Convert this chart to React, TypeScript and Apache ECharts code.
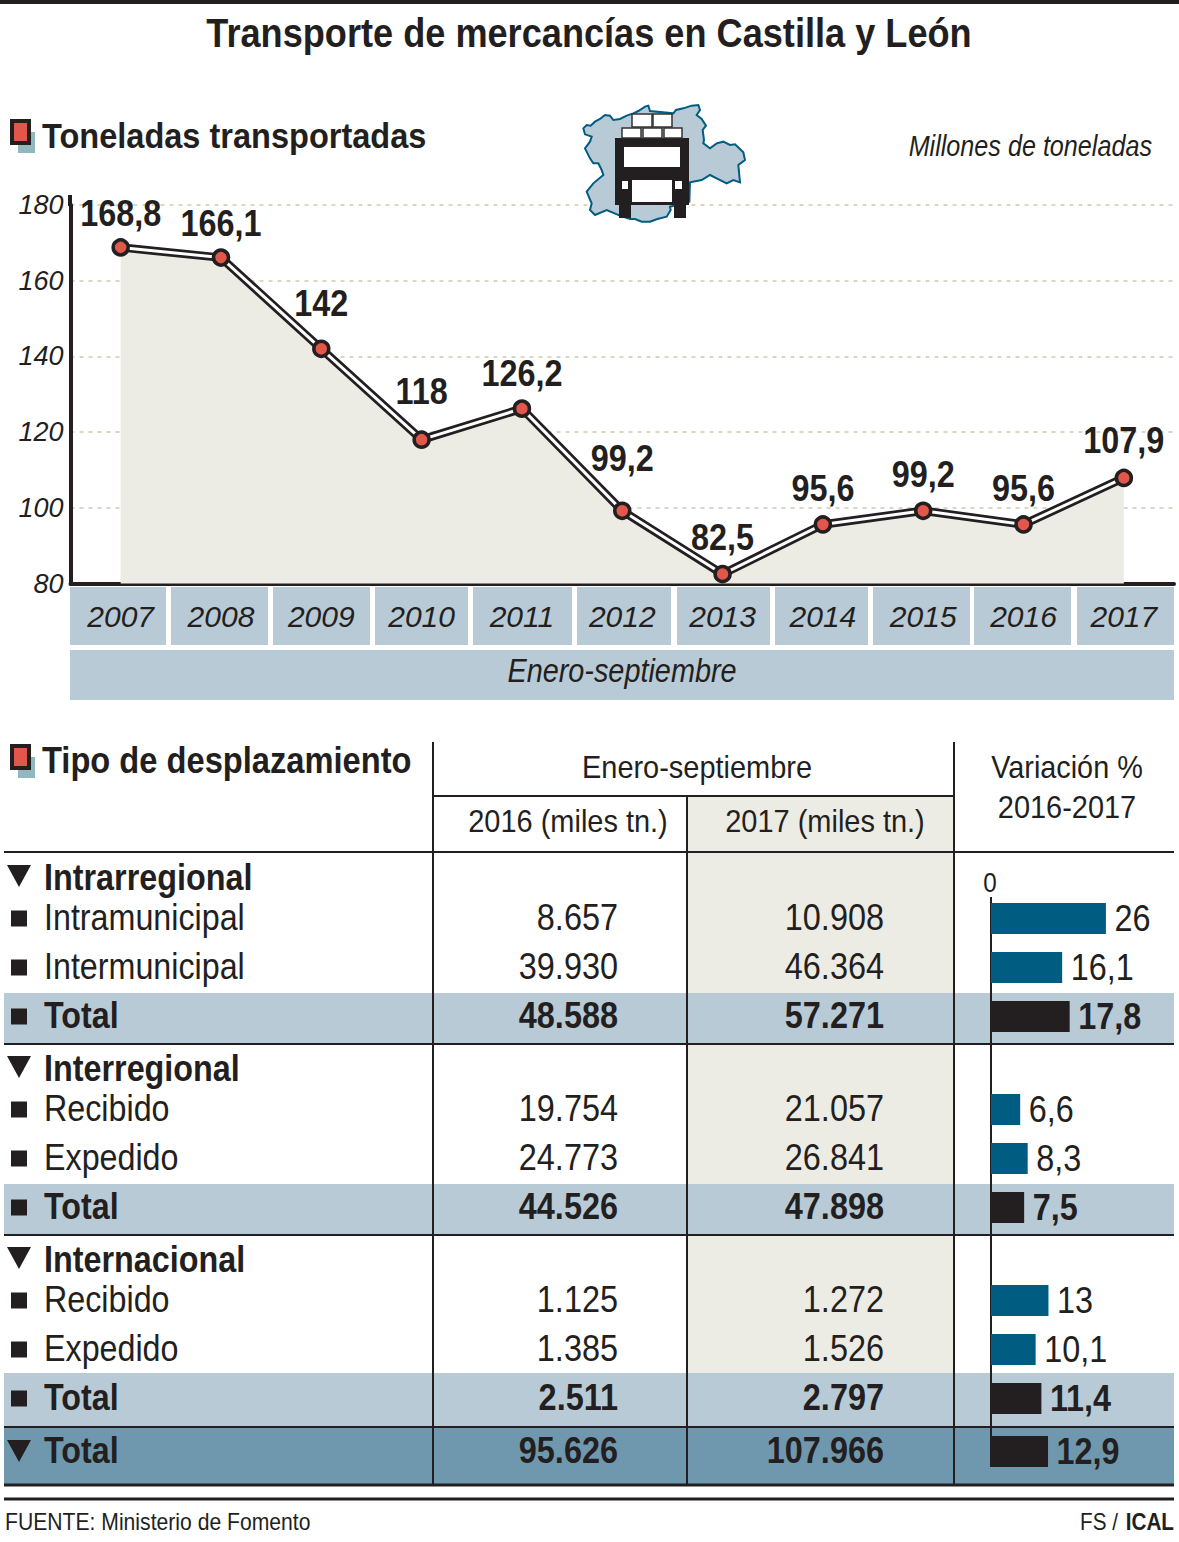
import React, { useEffect, useRef } from "react";
import * as echarts from "echarts";

const years = ["2007","2008","2009","2010","2011","2012","2013","2014","2015","2016","2017"];
const tons = [168.8,166.1,142,118,126.2,99.2,82.5,95.6,99.2,95.6,107.9];
const tonLabels = ["168,8","166,1","142","118","126,2","99,2","82,5","95,6","99,2","95,6","107,9"];

const groupNames = ["Intrarregional","Interregional","Internacional"];
const rowNames = [["Intramunicipal","Intermunicipal","Total"],["Recibido","Expedido","Total"],["Recibido","Expedido","Total"],["Total"]];
const values2016 = [["8.657","39.930","48.588"],["19.754","24.773","44.526"],["1.125","1.385","2.511"],["95.626"]];
const values2017 = [["10.908","46.364","57.271"],["21.057","26.841","47.898"],["1.272","1.526","2.797"],["107.966"]];
const variation = [[26,16.1,17.8],[6.6,8.3,7.5],[13,10.1,11.4],[12.9]];

// layout only
const labelGaps = [34,34,46,48,35,53,37,36,37,36,38];
const yearCells = [[70,166],[171,268],[273,370],[375,468],[473,572],[577,671],[677,770],[775,868],[873,970],[974,1071],[1077,1174]];
const groupTops = [894,1085,1276,1427];
const bandTops = [[993,50],[1184,50],[1373,54]];
const mapPts = [[40,100],[50,90],[62,92],[75,80],[90,72],[105,60],[120,62],[130,75],[150,72],[170,62],[190,55],[205,48],[225,35],[235,32],[240,48],[310,55],[318,45],[340,40],[365,32],[385,30],[390,45],[380,60],[395,72],[408,92],[398,105],[402,135],[400,145],[420,160],[440,145],[460,140],[480,150],[495,148],[520,172],[525,195],[505,210],[510,262],[490,255],[470,265],[440,250],[420,240],[395,255],[360,262],[358,320],[300,335],[302,345],[290,365],[262,372],[240,380],[215,380],[195,372],[180,372],[150,362],[110,345],[75,360],[60,345],[65,325],[50,290],[70,265],[100,240],[95,225],[85,205],[70,205],[60,190],[45,160],[60,140],[65,125],[45,118]];

const INK = "#231f20";
const BLUE = "#b8cad6";
const STEEL = "#6f98ae";
const BEIGE = "#ecebe4";
const TEAL = "#005c80";
const RED = "#e2574c";
const FONT = "'Liberation Sans',Arial,sans-serif";

const comma = (v: number) => String(v).replace(".", ",");

function t(text: string, x: number, y: number, size: number, sx: number, o: any = {}) {
  return {
    type: "text", x, y, z: 10, scaleX: sx, scaleY: 1,
    style: {
      text, fontSize: size, fontFamily: FONT,
      fontWeight: o.bold ? "bold" : "normal", fontStyle: o.italic ? "italic" : "normal",
      fill: INK, textAlign: o.align ?? "left", textVerticalAlign: "middle",
    },
  };
}
function r(x: number, y: number, w: number, h: number, fill: string, z = -1, extra: any = {}) {
  return { type: "rect", z, shape: { x, y, width: w, height: h }, style: { fill, ...extra } };
}
function l(x1: number, y1: number, x2: number, y2: number, w = 2, z = 5) {
  return { type: "line", z, shape: { x1, y1, x2, y2 }, style: { stroke: INK, lineWidth: w } };
}
function icon(x: number, y: number) {
  return [
    r(x + 8, y + 13, 17, 21, "#8fb8bf", 1),
    r(x + 2, y + 2, 17, 22, RED, 2, { stroke: INK, lineWidth: 4 }),
  ];
}
function tri(y: number) {
  return { type: "polygon", z: 10, shape: { points: [[7, y], [31, y], [19, y + 22]] }, style: { fill: INK } };
}
function truck() {
  const s = { stroke: "#333", lineWidth: 1.5 };
  return [
    { type: "polygon", z: 1, shape: { points: mapPts.map(([x, y]) => [570 + x / 3, 95 + y / 3]) }, style: { fill: BLUE, stroke: TEAL, lineWidth: 2 } },
    r(615, 138, 74, 67, INK, 2),
    r(624, 147, 56, 20, "#fff", 3),
    r(632, 180, 40, 22, "#fff", 3),
    r(622, 181, 6, 8, "#fff", 3),
    r(675, 181, 7, 8, "#fff", 3),
    r(619, 205, 12, 13, INK, 2),
    r(674, 205, 12, 13, INK, 2),
    r(622, 128, 19, 10, "#fff", 3, s),
    r(643, 128, 19, 10, "#fff", 3, s),
    r(664, 128, 18, 10, "#fff", 3, s),
    r(632, 114, 20, 13, "#fff", 3, s),
    r(653, 114, 19, 13, "#fff", 3, s),
  ];
}

const rowH = 49;
const RIGHT = 1174;

function buildGraphic() {
  const e: any[] = [];
  e.push(r(0, 0, 1179, 4, INK, 5));
  e.push(t("Transporte de mercancías en Castilla y León", 589, 33, 40, 0.904, { bold: true, align: "center" }));
  e.push(...icon(10, 119), t("Toneladas transportadas", 42, 135, 36, 0.904, { bold: true }));
  e.push(t("Millones de toneladas", 1152, 146, 29, 0.868, { italic: true, align: "right" }));
  e.push(...truck());
  yearCells.forEach(([a, b]) => e.push(r(a, 587, b - a, 58, BLUE)));
  e.push(r(70, 650, 1104, 50, BLUE));
  e.push(t("Enero-septiembre", 622, 671, 33, 0.874, { italic: true, align: "center" }));
  e.push(l(70, 195, 70, 206, 4));

  e.push(...icon(10, 744), t("Tipo de desplazamiento", 42, 760, 36, 0.907, { bold: true }));
  e.push(r(688, 797, 266, 576, BEIGE, -2));
  e.push(t("Enero-septiembre", 697, 766, 32, 0.905, { align: "center" }));
  e.push(t("2016 (miles tn.)", 568, 820, 32, 0.905, { align: "center" }));
  e.push(t("2017 (miles tn.)", 825, 820, 32, 0.905, { align: "center" }));
  e.push(t("Variación %", 1067, 766, 32, 0.9, { align: "center" }));
  e.push(t("2016-2017", 1067, 806, 32, 0.905, { align: "center" }));
  e.push(t("0", 990, 883, 27, 0.9, { align: "center" }));

  rowNames.forEach((names, g) => {
    names.forEach((name, i) => {
      const y = groupTops[g] + rowH * i + rowH / 2 - 1;
      const bold = name === "Total";
      if (g === 3) {
        e.push(tri(1440));
      } else {
        e.push(r(11, y - 7, 16, 16, INK, 10));
      }
      e.push(t(name, 44, y, 37, 0.872, { bold }));
      e.push(t(values2016[g][i], 618, y, 37, 0.877, { bold, align: "right" }));
      e.push(t(values2017[g][i], 884, y, 37, 0.877, { bold, align: "right" }));
    });
    if (g < 3) {
      e.push(r(4, bandTops[g][0], RIGHT - 4, bandTops[g][1], BLUE, -1));
      e.push(tri(groupTops[g] - 29));
      e.push(t(groupNames[g], 44, groupTops[g] - 17, 37, 0.874, { bold: true }));
    }
  });
  e.push(r(4, 1428, RIGHT - 4, 56, STEEL, -1));

  [852, 1044, 1235, 1427].forEach((y) => e.push(l(4, y, RIGHT, y, 2)));
  e.push(l(4, 1485, RIGHT, 1485, 3));
  e.push(l(433, 796, 954, 796, 2));
  e.push(l(433, 742, 433, 1485, 2));
  e.push(l(687, 796, 687, 1485, 2));
  e.push(l(954, 742, 954, 1485, 2));
  e.push(l(991, 897, 991, 1467, 2));
  e.push(l(4, 1499, RIGHT, 1499, 3));
  e.push(t("FUENTE: Ministerio de Fomento", 5, 1522, 23, 0.92));
  e.push(t("ICAL", 1174, 1522, 23, 0.9, { bold: true, align: "right" }));
  e.push(t("FS /", 1118, 1522, 23, 0.9, { align: "right" }));
  return e;
}

function labelEl(text: string, x: number, y: number, bold: boolean, align: string) {
  return {
    type: "text", x, y, scaleX: 0.875,
    style: {
      text, fontSize: 37, fontFamily: FONT, fontWeight: bold ? "bold" : "normal",
      fill: INK, textAlign: align, textVerticalAlign: "middle",
    },
  };
}

export default function App() {
  const ref = useRef<HTMLDivElement>(null);
  useEffect(() => {
    const chart = echarts.init(ref.current!, null, { renderer: "svg" });
    const grids: any[] = [{ left: 70.5, top: 205, width: 1103.5, height: 378.5 }];
    const xAxes: any[] = [{
      type: "category", gridIndex: 0, data: years, boundaryGap: true,
      axisLine: { lineStyle: { color: INK, width: 4 } }, axisTick: { show: false },
      axisLabel: { color: INK, fontFamily: FONT, fontStyle: "italic", fontSize: 30, margin: 18 },
    }];
    const yAxes: any[] = [{
      type: "value", gridIndex: 0, min: 80, max: 180, interval: 20,
      axisLine: { show: true, lineStyle: { color: INK, width: 4 } }, axisTick: { show: false },
      axisLabel: { color: INK, fontFamily: FONT, fontStyle: "italic", fontSize: 27, margin: 7 },
      splitLine: { lineStyle: { color: "#d9d8c4", width: 2, type: [4, 5] } },
    }];
    const series: any[] = [
      {
        type: "line", xAxisIndex: 0, yAxisIndex: 0, data: tons, z: 3, silent: true,
        lineStyle: { color: INK, width: 8.5 }, symbol: "none",
        areaStyle: { color: BEIGE, opacity: 1 },
      },
      {
        type: "line", xAxisIndex: 0, yAxisIndex: 0, z: 4, silent: true, data: tons,
        lineStyle: { color: "#fff", width: 3 },
        symbol: "circle", symbolSize: 15,
        itemStyle: { color: RED, borderColor: INK, borderWidth: 3.5 },
      },
      {
        type: "custom", xAxisIndex: 0, yAxisIndex: 0, z: 7, silent: true,
        data: tons.map((v, i) => [i, v]), encode: { x: 0, y: 1 },
        renderItem: (p: any, api: any) => {
          const [x, y] = api.coord([api.value(0), api.value(1)]);
          return labelEl(tonLabels[p.dataIndex], x, y - labelGaps[p.dataIndex], true, "center");
        },
      },
    ];
    rowNames.forEach((names, g) => {
      const idx = g + 1;
      grids.push({ left: 991, top: groupTops[g], width: 176.8, height: rowH * names.length });
      xAxes.push({ type: "value", gridIndex: idx, min: 0, max: 40, show: false });
      yAxes.push({ type: "category", gridIndex: idx, data: names, inverse: true, show: false });
      series.push({
        type: "bar", xAxisIndex: idx, yAxisIndex: idx, barWidth: 31, z: 6, silent: true,
        data: variation[g].map((v, i) => ({
          value: v,
          itemStyle: { color: names[i] === "Total" ? INK : TEAL },
        })),
      });
      series.push({
        type: "custom", xAxisIndex: idx, yAxisIndex: idx, z: 7, silent: true,
        data: variation[g].map((v, i) => [v, i]), encode: { x: 0, y: 1 },
        renderItem: (p: any, api: any) => {
          const v = api.value(0);
          const [x, y] = api.coord([v, api.value(1)]);
          return labelEl(comma(v), x + 8.5, y - 0.5, names[p.dataIndex] === "Total", "left");
        },
      });
    });
    chart.setOption({
      animation: false, backgroundColor: "#fff",
      grid: grids, xAxis: xAxes, yAxis: yAxes, series, graphic: { elements: buildGraphic() },
    });
    return () => chart.dispose();
  }, []);
  return <div ref={ref} style={{ position: "fixed", left: 0, top: 0, width: 1179, height: 1542 }} />;
}
